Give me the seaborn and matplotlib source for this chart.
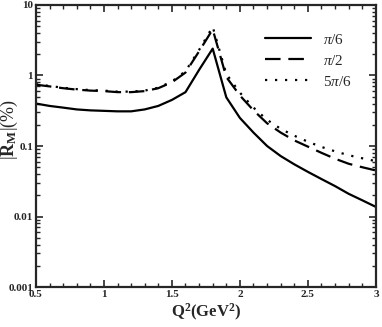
import numpy as np
import pandas as pd
import matplotlib
matplotlib.use("Agg")
import matplotlib.pyplot as plt
import seaborn as sns
from matplotlib.ticker import MultipleLocator, LogLocator, NullFormatter

# -----------------------------
# DATA
# -----------------------------
q2 = [0.5, 0.6, 0.7, 0.8, 0.9, 1.0, 1.1, 1.2, 1.3, 1.4, 1.5, 1.6, 1.7,
      1.8, 1.9, 2.0, 2.1, 2.2, 2.3, 2.4, 2.5, 2.6, 2.7, 2.8, 2.9, 3.0]

rm_pi6 = [0.40, 0.37, 0.35, 0.33, 0.32, 0.315, 0.31, 0.31, 0.33, 0.37, 0.45, 0.58, 1.2,
          2.4, 0.49, 0.25, 0.155, 0.10, 0.072, 0.055, 0.043, 0.034, 0.027, 0.021, 0.017, 0.0137]

rm_pi2 = [0.74, 0.70, 0.66, 0.63, 0.61, 0.60, 0.58, 0.58, 0.60, 0.66, 0.80, 1.1, 2.2,
          4.5, 0.95, 0.52, 0.32, 0.21, 0.155, 0.12, 0.098, 0.08, 0.066, 0.056, 0.050, 0.045]

rm_5pi6 = [0.75, 0.71, 0.67, 0.64, 0.62, 0.61, 0.59, 0.59, 0.61, 0.67, 0.82, 1.15, 2.3,
           4.9, 1.05, 0.57, 0.35, 0.235, 0.175, 0.14, 0.115, 0.097, 0.084, 0.074, 0.067, 0.061]

labels = [r"$\pi/6$", r"$\pi/2$", r"$5\pi/6$"]
styles = ["-", (0, (7, 3.5)), (0, (1, 3.5))]

# -----------------------------
# PLOT
# -----------------------------
sns.set_style("ticks")
plt.rcParams["font.family"] = ["Liberation Serif", "DejaVu Serif"]
plt.rcParams["mathtext.fontset"] = "custom"
plt.rcParams["mathtext.rm"] = "Liberation Serif"
plt.rcParams["mathtext.it"] = "Liberation Serif:italic"
plt.rcParams["mathtext.bf"] = "Liberation Serif:bold"

fig = plt.figure(figsize=(3.82, 3.27), dpi=100)
ax = fig.add_axes([0.094, 0.122, 0.89, 0.863])

for vals, lab, ls in zip([rm_pi6, rm_pi2, rm_5pi6], labels, styles):
    sns.lineplot(x=q2, y=vals, ax=ax, color="black", linestyle=ls,
                 linewidth=1.6, label=lab)

ax.set_yscale("log")
ax.set_xlim(0.5, 3.0)
ax.set_ylim(0.001, 10)

ax.xaxis.set_major_locator(MultipleLocator(0.5))
ax.xaxis.set_minor_locator(MultipleLocator(0.1))
ax.yaxis.set_minor_locator(LogLocator(base=10, subs=np.arange(2, 10)))
ax.yaxis.set_minor_formatter(NullFormatter())
ax.set_yticks([0.001, 0.01, 0.1, 1, 10])
ax.set_yticklabels(["0.001", "0.01", "0.1", "1", "10"])
ax.set_xticks([0.5, 1, 1.5, 2, 2.5, 3])
ax.set_xticklabels(["0.5", "1", "1.5", "2", "2.5", "3"])

ax.tick_params(which="both", direction="in", top=True, right=True,
               labelsize=8, pad=2)
ax.tick_params(which="major", length=5, width=1.2)
ax.tick_params(which="minor", length=3, width=1)
for lbl in ax.get_xticklabels() + ax.get_yticklabels():
    lbl.set_fontweight("bold")
for sp in ax.spines.values():
    sp.set_linewidth(1.6)

ax.set_xlabel(r"$\mathbf{Q^2(GeV^2)}$", fontsize=12, labelpad=2)
ax.set_ylabel(r"$|\mathbf{R}_{\mathbf{M}}|(\%)$", fontsize=13)
ax.yaxis.set_label_coords(-0.047, 0.56)

ax.legend(loc="upper right", frameon=False, fontsize=11,
          handlelength=3.0, handletextpad=0.8, labelspacing=0.45,
          bbox_to_anchor=(0.97, 0.95))

fig.savefig("out.png", dpi=100)
